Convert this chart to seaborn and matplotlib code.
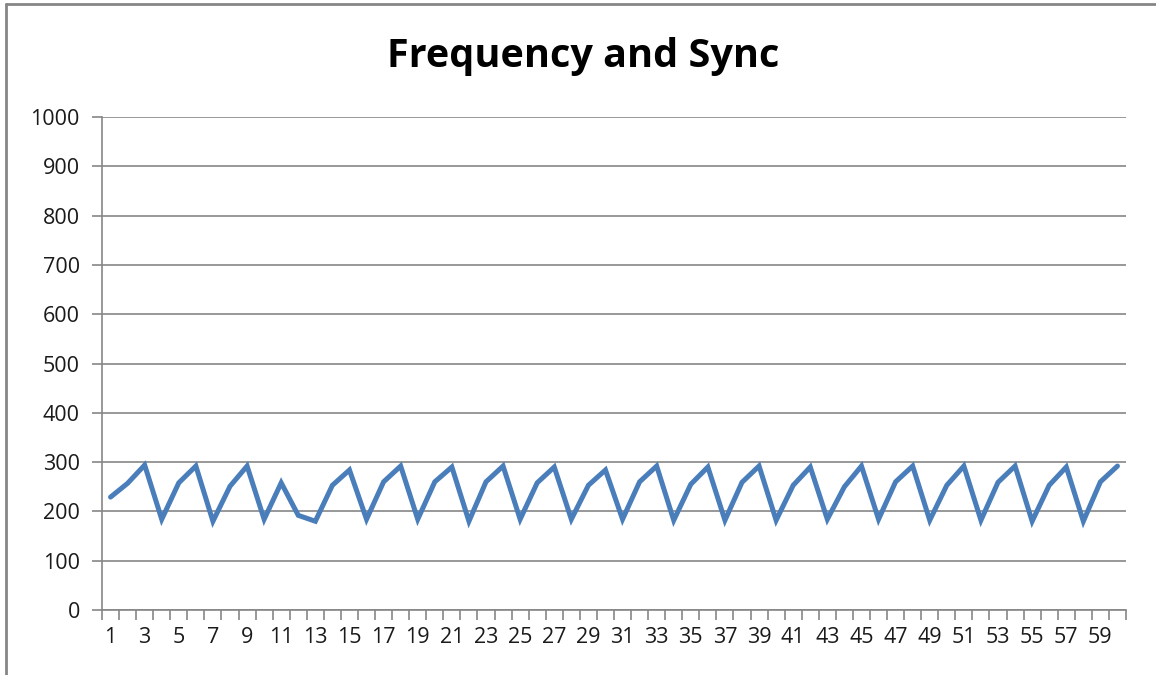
import matplotlib
matplotlib.use("Agg")
import matplotlib.pyplot as plt
from matplotlib.lines import Line2D
from matplotlib.ticker import FixedLocator, NullFormatter
import numpy as np
import pandas as pd
import seaborn as sns

# Sample index and measured value per sample
samples = list(range(1, 61))
values = [
    229, 257, 294, 184, 258, 292, 180, 251, 292, 184,
    258, 192, 180, 253, 284, 184, 260, 292, 184, 260,
    290, 180, 260, 292, 184, 258, 290, 184, 253, 284,
    184, 260, 292, 182, 255, 290, 182, 259, 292, 182,
    253, 290, 184, 250, 292, 184, 260, 292, 182, 253,
    292, 182, 259, 292, 180, 253, 290, 180, 260, 292,
]
y_ticks = list(range(0, 1001, 100))
x_tick_labels = [str(s) for s in samples if s % 2 == 1]

df = pd.DataFrame({"sample": samples, "value": values})

sns.set_theme(style="white")
plt.rcParams["font.family"] = ["Open Sans", "DejaVu Sans"]

grid_col = "#868686"
line_col = "#4A7EBB"

fig = plt.figure(figsize=(11.56, 6.75), dpi=100)
ax = fig.add_axes([102 / 1156, 1 - 610 / 675, (1126 - 102) / 1156, (610 - 117) / 675])

sns.lineplot(data=df, x="sample", y="value", ax=ax, color=line_col,
             linewidth=3.6, solid_joinstyle="miter", zorder=3)

ax.set_xlim(0.5, 60.5)
ax.set_ylim(0, 1000)
ax.set_xlabel("")
ax.set_ylabel("")

# y axis: gridlines every 100 with outward ticks
ax.set_yticks(y_ticks)
ax.set_yticklabels([str(v) for v in y_ticks])
ax.yaxis.grid(True, color=grid_col, linewidth=1.2)
ax.xaxis.grid(False)
ax.tick_params(axis="y", which="major", length=7, width=1.2, color=grid_col,
               direction="out", pad=9, labelsize=15.5, labelcolor="#1a1a1a", left=True)

# x axis: labels on odd samples, tick marks between categories
ax.set_xticks([s for s in samples if s % 2 == 1])
ax.set_xticklabels(x_tick_labels)
ax.xaxis.set_minor_locator(FixedLocator(np.arange(0.5, 61, 1.0)))
ax.xaxis.set_minor_formatter(NullFormatter())
ax.tick_params(axis="x", which="major", length=0, pad=12, labelsize=15.5,
               labelcolor="#1a1a1a", bottom=True)
ax.tick_params(axis="x", which="minor", length=7, width=1.2, color=grid_col,
               direction="out", bottom=True)

for side in ["top", "right"]:
    ax.spines[side].set_visible(False)
for side in ["left", "bottom"]:
    ax.spines[side].set_color(grid_col)
    ax.spines[side].set_linewidth(1.2)
ax.set_facecolor("white")

fig.text(583 / 1156, 1 - 57 / 675, "Frequency and Sync", ha="center", va="center",
         fontsize=28.5, fontweight="bold", color="black")

# outer chart frame
fig.add_artist(Line2D([6 / 1156, 6 / 1156], [0, 1 - 4 / 675], color=grid_col,
                      linewidth=2, transform=fig.transFigure))
fig.add_artist(Line2D([6 / 1156, 1], [1 - 4 / 675, 1 - 4 / 675], color=grid_col,
                      linewidth=2, transform=fig.transFigure))

fig.savefig("out.png", dpi=100, facecolor="white")
